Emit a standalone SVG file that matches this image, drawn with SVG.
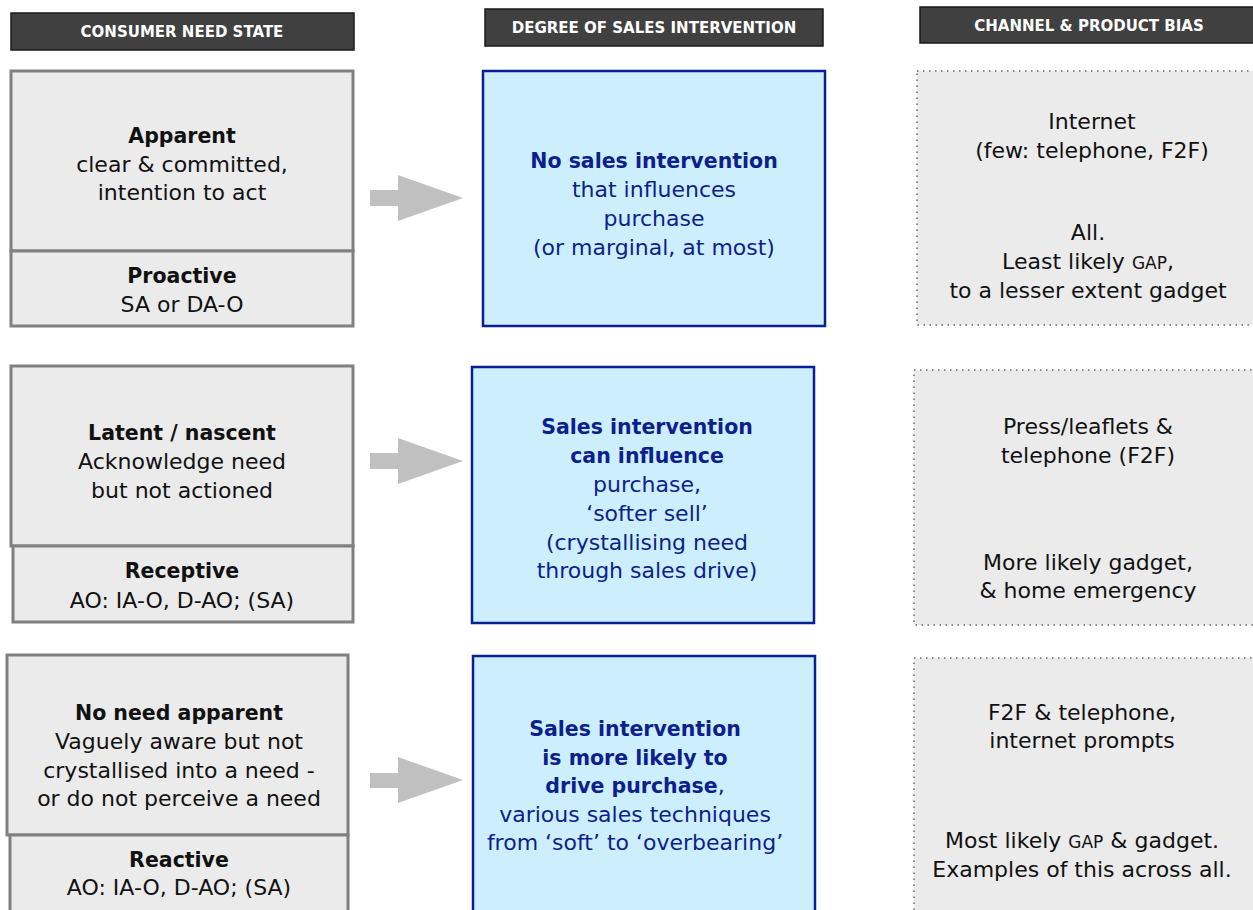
<svg xmlns="http://www.w3.org/2000/svg" width="1253" height="910" viewBox="0 0 1253 910">
<style>
.hdr{fill:#404040;stroke:#1a1a1a;stroke-width:1.5}
.ht{font-family:"DejaVu Sans","Open Sans",sans-serif;font-weight:bold;font-size:15px;fill:#ffffff;text-anchor:middle}
.lbox{fill:#ebebeb;stroke:#808080;stroke-width:3}
.bbox{fill:#cdeefd;stroke:#0a1e96;stroke-width:2.5}
.dbox{fill:#ebebeb;stroke:#8a8a8a;stroke-width:2;stroke-dasharray:1.5 4.5}
.t{font-family:"DejaVu Sans","Open Sans",sans-serif;font-size:22px;fill:#111111;text-anchor:middle}
.b{font-weight:bold;font-size:20.5px}
.bl{fill:#0d1f8c}
.sc{font-size:17px}
.arr{fill:#c0c0c0}
</style>
<rect width="1253" height="910" fill="#ffffff"/>
<g id="headers">
<rect class="hdr" x="11" y="13" width="343" height="37"/>
<text class="ht" x="182" y="37">CONSUMER NEED STATE</text>
<rect class="hdr" x="485" y="9" width="338" height="37"/>
<text class="ht" x="654" y="33">DEGREE OF SALES INTERVENTION</text>
<rect class="hdr" x="920" y="7" width="340" height="36"/>
<text class="ht" x="1089" y="31">CHANNEL &amp; PRODUCT BIAS</text>
</g>
<g id="connectors">
<polygon class="arr" points="370,190 398,190 398,175 463,198 398,221 398,206 370,206"/>
<polygon class="arr" points="370,453 398,453 398,438 463,461 398,484 398,469 370,469"/>
<polygon class="arr" points="370,773 398,773 398,757 463,780 398,803 398,788 370,788"/>
</g>
<g id="need-apparent">
<rect class="lbox" x="11" y="71" width="342" height="180"/>
<rect class="lbox" x="11" y="251" width="342" height="75"/>
<text class="t b" x="182" y="143">Apparent</text>
<text class="t" x="182" y="172">clear &amp; committed,</text>
<text class="t" x="182" y="200">intention to act</text>
<text class="t b" x="182" y="283">Proactive</text>
<text class="t" x="182" y="312">SA or DA-O</text>
</g>
<g id="intervention-none">
<rect class="bbox" x="483" y="71" width="342" height="255"/>
<text class="t b bl" x="654" y="168">No sales intervention</text>
<text class="t bl" x="654" y="197">that influences</text>
<text class="t bl" x="654" y="226">purchase</text>
<text class="t bl" x="654" y="255">(or marginal, at most)</text>
</g>
<g id="channel-1">
<rect class="dbox" x="917" y="71" width="345" height="254"/>
<text class="t" x="1092" y="129">Internet</text>
<text class="t" x="1092" y="158">(few: telephone, F2F)</text>
<text class="t" x="1088" y="240">All.</text>
<text class="t" x="1088" y="269">Least likely <tspan class="sc">GAP</tspan>,</text>
<text class="t" x="1088" y="298">to a lesser extent gadget</text>
</g>
<g id="need-latent">
<rect class="lbox" x="11" y="366" width="342" height="180"/>
<rect class="lbox" x="13" y="546" width="340" height="76"/>
<text class="t b" x="182" y="440">Latent / nascent</text>
<text class="t" x="182" y="469">Acknowledge need</text>
<text class="t" x="182" y="498">but not actioned</text>
<text class="t b" x="182" y="578">Receptive</text>
<text class="t" x="182" y="608">AO: IA-O, D-AO; (SA)</text>
</g>
<g id="intervention-can">
<rect class="bbox" x="472" y="367" width="342" height="256"/>
<text class="t b bl" x="647" y="434">Sales intervention</text>
<text class="t b bl" x="647" y="463">can influence</text>
<text class="t bl" x="647" y="492">purchase,</text>
<text class="t bl" x="647" y="521">‘softer sell’</text>
<text class="t bl" x="647" y="550">(crystallising need</text>
<text class="t bl" x="647" y="578">through sales drive)</text>
</g>
<g id="channel-2">
<rect class="dbox" x="914" y="370" width="348" height="255"/>
<text class="t" x="1088" y="434">Press/leaflets &amp;</text>
<text class="t" x="1088" y="463">telephone (F2F)</text>
<text class="t" x="1088" y="570">More likely gadget,</text>
<text class="t" x="1088" y="598">&amp; home emergency</text>
</g>
<g id="need-none">
<rect class="lbox" x="7" y="655" width="341" height="180"/>
<rect class="lbox" x="10" y="835" width="338" height="90"/>
<text class="t b" x="179" y="720">No need apparent</text>
<text class="t" x="179" y="749">Vaguely aware but not</text>
<text class="t" x="179" y="778">crystallised into a need -</text>
<text class="t" x="179" y="806">or do not perceive a need</text>
<text class="t b" x="179" y="867">Reactive</text>
<text class="t" x="179" y="895">AO: IA-O, D-AO; (SA)</text>
</g>
<g id="intervention-likely">
<rect class="bbox" x="473" y="656" width="342" height="270"/>
<text class="t b bl" x="635" y="736">Sales intervention</text>
<text class="t b bl" x="635" y="765">is more likely to</text>
<text class="t b bl" x="635" y="793">drive purchase<tspan font-weight="normal" font-size="22px">,</tspan></text>
<text class="t bl" x="635" y="822">various sales techniques</text>
<text class="t bl" x="635" y="850">from ‘soft’ to ‘overbearing’</text>
</g>
<g id="channel-3">
<rect class="dbox" x="914" y="658" width="348" height="270"/>
<text class="t" x="1082" y="720">F2F &amp; telephone,</text>
<text class="t" x="1082" y="748">internet prompts</text>
<text class="t" x="1082" y="848">Most likely <tspan class="sc">GAP</tspan> &amp; gadget.</text>
<text class="t" x="1082" y="877">Examples of this across all.</text>
</g>
</svg>
